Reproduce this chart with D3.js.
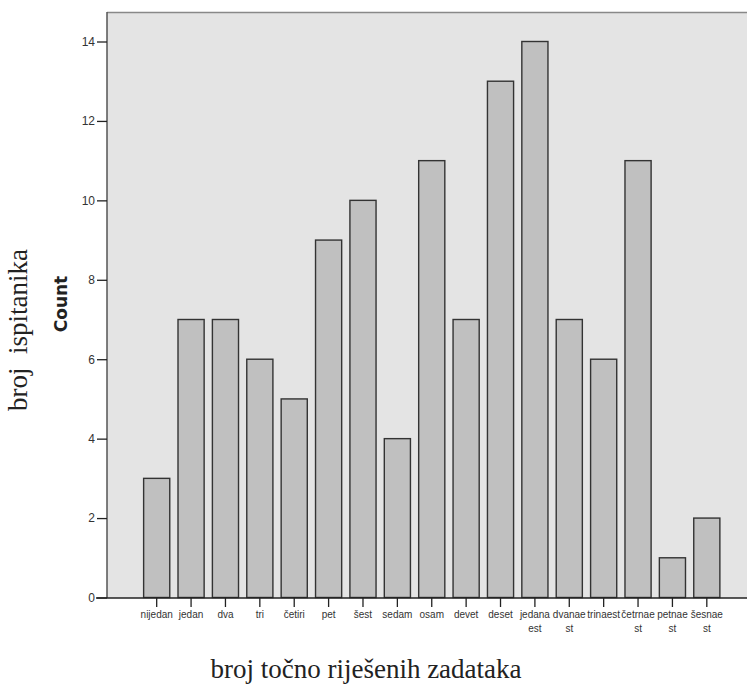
<!DOCTYPE html>
<html>
<head>
<meta charset="utf-8">
<script src="https://cdn.jsdelivr.net/npm/d3@7"></script>
<style>
  html, body { margin: 0; padding: 0; background: #fff; }
  svg { display: block; }
</style>
</head>
<body>
<svg id="chart" width="747" height="684"></svg>
<script>
// Number of correctly solved tasks (0–16) and how many respondents got each
const categories = ["nijedan", "jedan", "dva", "tri", "četiri", "pet", "šest", "sedam", "osam",
  "devet", "deset", "jedanaest", "dvanaest", "trinaest", "četrnaest", "petnaest", "šesnaest"];
const tickLabels = ["nijedan", "jedan", "dva", "tri", "četiri", "pet", "šest", "sedam", "osam",
  "devet", "deset", "jedana\nest", "dvanae\nst", "trinaest", "četrnae\nst", "petnae\nst", "šesnae\nst"];
const counts = [3, 7, 7, 6, 5, 9, 10, 4, 11, 7, 13, 14, 7, 6, 11, 1, 2];
const yTicks = [0, 2, 4, 6, 8, 10, 12, 14];

const svg = d3.select("#chart");
const W = 747, H = 684;
const plot = { left: 107, top: 12, right: 760, bottom: 598 };

const x = d3.scaleBand()
  .domain(categories)
  .range([139.5, 724])
  .paddingInner(0.24)
  .paddingOuter(0.12);

const y = d3.scaleLinear()
  .domain([0, 14])
  .range([597.5, 41.5]);

// plot background
svg.append("rect")
  .attr("x", plot.left).attr("y", plot.top)
  .attr("width", plot.right - plot.left).attr("height", plot.bottom - plot.top)
  .attr("fill", "#e4e4e4");

// frame: top and left edges
svg.append("line")
  .attr("x1", plot.left).attr("x2", W).attr("y1", plot.top + 0.5).attr("y2", plot.top + 0.5)
  .attr("stroke", "#888").attr("stroke-width", 1.5);
svg.append("line")
  .attr("x1", plot.left).attr("x2", plot.left).attr("y1", plot.top).attr("y2", plot.bottom)
  .attr("stroke", "#555").attr("stroke-width", 1.5);

// bars
svg.append("g").selectAll("rect")
  .data(counts)
  .join("rect")
  .attr("x", (d, i) => x(categories[i]))
  .attr("y", d => y(d))
  .attr("width", x.bandwidth())
  .attr("height", d => y(0) - y(d))
  .attr("fill", "#c0c0c0")
  .attr("stroke", "#333")
  .attr("stroke-width", 1.4);

// y axis
const yAxis = svg.append("g")
  .attr("transform", `translate(${plot.left},0)`)
  .call(d3.axisLeft(y).tickValues(yTicks).tickSize(10).tickPadding(2).tickFormat(d3.format("d")));
yAxis.select(".domain").remove();
yAxis.selectAll(".tick line").attr("stroke", "#222").attr("stroke-width", 1.3);
yAxis.selectAll(".tick text")
  .attr("fill", "#333")
  .style("font-family", "Arial, 'Liberation Sans', sans-serif")
  .style("font-size", "12px");

// x axis
const xAxis = svg.append("g")
  .attr("transform", `translate(0,${plot.bottom})`)
  .call(d3.axisBottom(x).tickSize(9).tickPadding(4).tickFormat((d, i) => ""));
xAxis.select(".domain").remove();
xAxis.selectAll(".tick line").attr("stroke", "#222").attr("stroke-width", 1.3);
xAxis.selectAll(".tick text").each(function(d, i) {
  const t = d3.select(this);
  const lines = tickLabels[i].split("\n");
  t.text(null)
    .attr("fill", "#333")
    .style("font-family", "Arial, 'Liberation Sans', sans-serif")
    .style("font-size", "10px");
  lines.forEach((ln, k) => {
    t.append("tspan").attr("x", 0).attr("dy", k === 0 ? "0.71em" : "1.35em").text(ln);
  });
});

// baseline
svg.append("line")
  .attr("x1", 96).attr("x2", W).attr("y1", plot.bottom).attr("y2", plot.bottom)
  .attr("stroke", "#222").attr("stroke-width", 1.3);

// axis titles
svg.append("text")
  .attr("transform", `translate(67,304) rotate(-90)`)
  .attr("text-anchor", "middle")
  .style("font-family", "'DejaVu Sans', Verdana, sans-serif")
  .style("font-size", "17px")
  .style("font-weight", "bold")
  .attr("fill", "#222")
  .text("Count");

svg.append("text")
  .attr("transform", `translate(27,330) rotate(-90)`)
  .attr("text-anchor", "middle")
  .style("font-family", "'Liberation Serif', 'Times New Roman', serif")
  .style("font-size", "27px")
  .style("white-space", "pre")
  .attr("fill", "#222")
  .text("broj  ispitanika");

svg.append("text")
  .attr("x", 366).attr("y", 678)
  .attr("text-anchor", "middle")
  .style("font-family", "'Liberation Serif', 'Times New Roman', serif")
  .style("font-size", "27px")
  .attr("fill", "#222")
  .text("broj točno riješenih zadataka");
</script>
</body>
</html>
